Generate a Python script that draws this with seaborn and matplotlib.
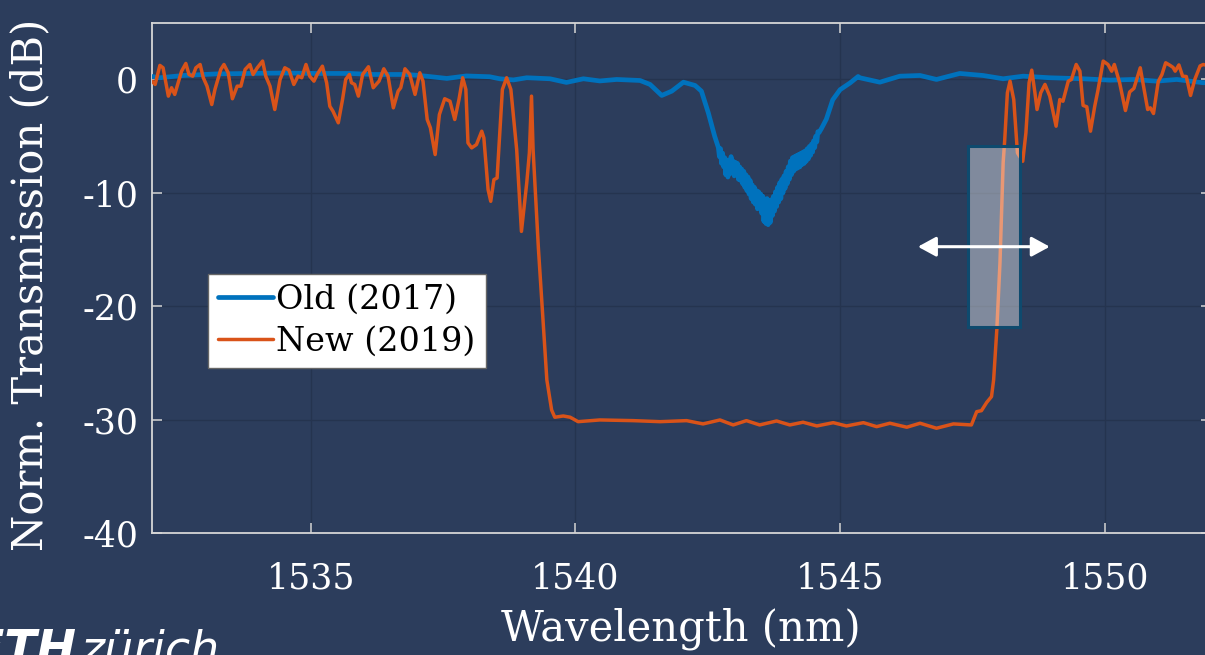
import numpy as np
import pandas as pd
import matplotlib
matplotlib.use("Agg")
import matplotlib.pyplot as plt
from matplotlib.patches import Rectangle
import seaborn as sns

# ---- measured transmission spectra (wavelength in nm, transmission in dB) ----
old_wavelength = [
    1532.00, 1532.15, 1532.59, 1533.22, 1533.85, 1534.48, 1535.11, 1535.74, 1536.18,
    1536.81, 1537.06, 1537.57, 1537.94, 1538.38, 1538.57, 1538.83, 1539.08, 1539.52,
    1539.83, 1540.15, 1540.46, 1540.78, 1541.22, 1541.41, 1541.63, 1541.82, 1542.04,
    1542.26, 1542.38, 1542.51, 1542.63,
    1542.70, 1542.72, 1542.74, 1542.76, 1542.78, 1542.80, 1542.82, 1542.84, 1542.86,
    1542.88, 1542.90, 1542.92, 1542.94, 1542.96, 1542.98, 1543.00, 1543.02, 1543.04,
    1543.06, 1543.08, 1543.10, 1543.12, 1543.14, 1543.16, 1543.18, 1543.20, 1543.22,
    1543.24, 1543.26, 1543.28, 1543.30, 1543.32, 1543.34, 1543.36, 1543.38, 1543.40,
    1543.42, 1543.44, 1543.46, 1543.48, 1543.50, 1543.52, 1543.54, 1543.56, 1543.58,
    1543.60, 1543.62, 1543.64, 1543.66, 1543.68, 1543.70, 1543.72, 1543.74, 1543.76,
    1543.78, 1543.80, 1543.82, 1543.84, 1543.86, 1543.88, 1543.90, 1543.92, 1543.94,
    1543.96, 1543.98, 1544.00, 1544.02, 1544.04, 1544.06, 1544.08, 1544.10, 1544.12,
    1544.14, 1544.16, 1544.18, 1544.20, 1544.22, 1544.24, 1544.26, 1544.28, 1544.30,
    1544.32, 1544.34, 1544.36, 1544.38, 1544.40, 1544.42, 1544.44, 1544.46, 1544.48,
    1544.50, 1544.52, 1544.54, 1544.56, 1544.58, 1544.60,
    1544.65, 1544.74, 1544.86, 1545.00, 1545.19, 1545.34, 1545.37, 1545.75, 1546.13,
    1546.51, 1546.82, 1547.26, 1547.70, 1548.08, 1548.46, 1548.96, 1549.59, 1550.10,
    1550.54, 1550.98, 1551.36, 1551.86, 1552.00,
]
old_db = [
    0.26, 0.15, 0.35, 0.49, 0.53, 0.57, 0.53, 0.53, 0.44,
    0.44, 0.35, 0.09, 0.31, 0.24, 0.06, -0.04, 0.15, 0.06,
    -0.26, 0.06, -0.13, 0.00, -0.09, -0.44, -1.41, -1.03, -0.24,
    -0.53, -1.03, -2.94, -5.00,
    -6.0, -6.8, -6.1, -7.4, -6.5, -7.7, -6.9, -8.4, -7.1,
    -8.6, -7.3, -8.3, -6.8, -8.2, -7.2, -8.5, -7.3, -8.2,
    -7.4, -8.8, -7.7, -8.9, -7.9, -9.2, -8.1, -9.5, -8.4,
    -9.8, -8.6, -10.1, -8.9, -10.5, -9.3, -10.8, -9.5, -11.0,
    -9.8, -11.4, -9.9, -11.2, -10.1, -11.8, -10.3, -12.5, -10.8,
    -12.7, -10.5, -12.8, -10.9, -12.6, -10.6, -12.0, -10.3, -11.6,
    -9.9, -11.2, -9.5, -10.8, -9.1, -10.5, -8.8, -10.0, -8.5,
    -9.6, -8.1, -9.2, -7.7, -8.8, -7.2, -8.4, -6.9, -8.1,
    -6.8, -7.9, -6.7, -7.8, -6.6, -7.7, -6.5, -7.5, -6.4,
    -7.4, -6.3, -7.2, -6.1, -7.0, -5.9, -6.7, -5.7, -6.4,
    -5.4, -6.0, -5.0, -5.5, -4.6, -4.7,
    -4.3, -3.5, -1.8, -0.9, -0.3, 0.26, 0.15, -0.24, 0.29,
    0.35, 0.00, 0.53, 0.35, 0.06, 0.29, 0.15, 0.06, -0.06,
    0.00, -0.15, 0.00, -0.29, -0.26,
]

new_wavelength = [
    1532.00, 1532.06, 1532.15, 1532.21, 1532.31, 1532.37, 1532.43, 1532.56, 1532.64,
    1532.70, 1532.77, 1532.83, 1532.91, 1532.97, 1533.04, 1533.13, 1533.19, 1533.30,
    1533.36, 1533.44, 1533.52, 1533.61, 1533.68, 1533.76, 1533.85, 1533.91, 1533.99,
    1534.09, 1534.15, 1534.23, 1534.32, 1534.42, 1534.51, 1534.59, 1534.68, 1534.76,
    1534.83, 1534.91, 1534.98, 1535.06, 1535.12, 1535.22, 1535.30, 1535.36, 1535.42,
    1535.52, 1535.60, 1535.66, 1535.73, 1535.77, 1535.83, 1535.90, 1535.98, 1536.09,
    1536.18, 1536.29, 1536.38, 1536.46, 1536.56, 1536.65, 1536.70, 1536.78, 1536.87,
    1536.97, 1537.06, 1537.12, 1537.20, 1537.26, 1537.35, 1537.43, 1537.53, 1537.63,
    1537.72, 1537.80, 1537.87, 1537.93, 1537.97, 1538.04, 1538.13, 1538.23, 1538.27,
    1538.35, 1538.40, 1538.46, 1538.52, 1538.62, 1538.70, 1538.78, 1538.89, 1538.98,
    1539.08, 1539.13, 1539.17, 1539.20, 1539.30, 1539.46, 1539.55, 1539.61, 1539.77,
    1539.90, 1540.05, 1540.46, 1541.09, 1541.60, 1542.10, 1542.41, 1542.73, 1542.98,
    1543.23, 1543.48, 1543.80, 1544.05, 1544.30, 1544.56, 1544.87, 1545.12, 1545.44,
    1545.69, 1545.94, 1546.26, 1546.51, 1546.82, 1547.14, 1547.48, 1547.58, 1547.67,
    1547.77, 1547.86, 1547.90, 1547.96, 1548.02, 1548.08, 1548.11, 1548.16, 1548.21,
    1548.28, 1548.35, 1548.45, 1548.51, 1548.57, 1548.62, 1548.68, 1548.72, 1548.79,
    1548.87, 1548.96, 1549.08, 1549.15, 1549.21, 1549.31, 1549.37, 1549.46, 1549.53,
    1549.59, 1549.66, 1549.73, 1549.81, 1549.87, 1549.97, 1550.06, 1550.13, 1550.18,
    1550.28, 1550.39, 1550.47, 1550.55, 1550.67, 1550.75, 1550.81, 1550.86, 1550.92,
    1551.01, 1551.08, 1551.15, 1551.23, 1551.29, 1551.33, 1551.40, 1551.47, 1551.54,
    1551.62, 1551.70, 1551.80, 1551.86, 1552.00,
]
new_db = [
    -0.15, -0.44, 1.24, 1.03, -1.47, -0.73, -1.32, 0.73, 1.41,
    0.44, 0.29, 1.03, 1.32, 0.15, -0.59, -2.21, -0.88, 0.88,
    1.32, 0.59, -1.70, -0.59, -0.59, 0.88, 1.32, 0.44, 1.03,
    1.62, 0.29, -0.59, -2.65, 0.00, 1.03, 0.82, -0.44, 0.29,
    0.15, 1.32, 0.29, -0.15, 0.44, 1.17, -0.29, -2.36, -2.80,
    -3.82, -1.77, 0.00, 0.44, -0.29, -0.44, -1.47, 0.44, 1.12,
    -0.73, -0.15, 0.94, 0.29, -2.50, -1.03, -0.73, 0.94, 0.44,
    -1.32, 0.59, -0.15, -3.53, -4.26, -6.62, -3.09, -1.70, -1.92,
    -3.53, -1.77, 0.15, -0.88, -5.59, -6.03, -5.74, -4.56, -5.15,
    -9.71, -10.74, -8.83, -8.68, -0.88, 0.15, -0.88, -6.18, -13.39,
    -9.12, -6.47, -1.47, -6.18, -14.85, -26.48, -29.13, -29.77, -29.66,
    -29.77, -30.16, -30.01, -30.07, -30.16, -30.07, -30.36, -30.01, -30.45,
    -30.07, -30.45, -30.10, -30.45, -30.21, -30.54, -30.25, -30.54, -30.25,
    -30.60, -30.30, -30.65, -30.30, -30.74, -30.36, -30.45, -29.28, -29.19,
    -28.46, -27.95, -26.48, -22.07, -16.15, -7.33, -5.30, -1.17, -0.15,
    -1.77, -6.47, -7.21, -4.70, -0.29, 0.82, -1.17, -2.65, -1.17,
    -0.44, -1.47, -4.12, -1.77, -1.92, -0.15, 0.00, 1.32, 0.73,
    -2.29, -2.41, -4.56, -2.36, -0.97, 1.62, 1.32, 0.73, 1.32,
    -0.29, -2.74, -1.10, -0.79, 1.03, -1.06, -2.65, -2.50, -3.00,
    -0.18, 0.44, 1.47, 1.25, 1.06, 0.73, 1.28, 0.29, 0.26,
    -1.41, 0.00, 1.19, 1.32, 1.15,
]

series_labels = ["Old (2017)", "New (2019)"]
x_ticks = [1535, 1540, 1545, 1550]
y_ticks = [0, -10, -20, -30, -40]

# highlighted tuning window and tuning arrow (nm, dB)
window_wavelength = [1547.41, 1548.40]
window_db = [-21.8, -5.9]
arrow_wavelength = [1546.47, 1548.96]
arrow_db = -14.74

BG = "#2c3d5c"
BLUE = "#0072BD"
ORANGE = "#D95319"

sns.set_theme(style="white")
plt.rcParams["font.family"] = ["DejaVu Serif"]

fig = plt.figure(figsize=(12.05, 6.55), dpi=100, facecolor=BG)
ax = fig.add_axes([0.1261, 0.1858, 0.8786, 0.7795], facecolor=BG)

old_df = pd.DataFrame({"wavelength": old_wavelength, "db": old_db})
new_df = pd.DataFrame({"wavelength": new_wavelength, "db": new_db})

sns.lineplot(data=old_df, x="wavelength", y="db", ax=ax, color=BLUE, lw=3.4,
             sort=False, estimator=None, label=series_labels[0], zorder=3)
sns.lineplot(data=new_df, x="wavelength", y="db", ax=ax, color=ORANGE, lw=2.5,
             sort=False, estimator=None, label=series_labels[1], zorder=4)

ax.set_xlim(1532, 1552)
ax.set_ylim(-40, 5)
ax.set_xticks(x_ticks)
ax.set_yticks(y_ticks)
ax.set_xticklabels([str(t) for t in x_ticks])
ax.set_yticklabels([str(t) for t in y_ticks])

ax.grid(True, color="#25344f", lw=1.0)
ax.set_axisbelow(True)
for side in ["left", "right", "top", "bottom"]:
    ax.spines[side].set_visible(True)
    ax.spines[side].set_color("#d6d6d6")
    ax.spines[side].set_linewidth(1.3)

ax.tick_params(axis="both", which="major", direction="in", length=7.5, width=1.1,
               color="#d6d6d6", labelcolor="white", labelsize=25,
               top=True, right=True, bottom=True, left=True)
ax.tick_params(axis="x", pad=20)
ax.tick_params(axis="y", pad=10)

ax.set_xlabel("Wavelength (nm)", color="white", fontsize=30)
ax.set_ylabel("Norm. Transmission (dB)", color="white", fontsize=30)
ax.xaxis.set_label_coords(0.5, -0.145)
ax.yaxis.set_label_coords(-0.095, 0.486)

# tuning window and arrow
rect = Rectangle((window_wavelength[0], window_db[0]),
                 window_wavelength[1] - window_wavelength[0],
                 window_db[1] - window_db[0],
                 facecolor=(1, 1, 1, 0.4), edgecolor="#0e4a6e", lw=2.2, zorder=5)
ax.add_patch(rect)
ax.annotate("", xy=(arrow_wavelength[0], arrow_db), xytext=(arrow_wavelength[1], arrow_db),
            arrowprops=dict(arrowstyle="<|-|>,head_length=0.55,head_width=0.3",
                            color="white", lw=2.2, mutation_scale=20,
                            shrinkA=0, shrinkB=0), zorder=6)

leg = ax.legend(loc="upper left", bbox_to_anchor=(0.053, 0.508), fontsize=24,
                frameon=True, fancybox=False, framealpha=1.0, facecolor="white",
                edgecolor="#666666", borderpad=0.3, borderaxespad=0,
                handlelength=1.65, handletextpad=0.1, labelspacing=0.3)
leg.get_frame().set_linewidth(1.0)
for t in leg.get_texts():
    t.set_color("black")

# institution mark in the lower-left corner
fig.text(76 / 1205, -8 / 655, "ETH", color="white", fontsize=34, fontweight="bold",
         fontstyle="italic", family=["DejaVu Sans"], ha="right", va="baseline")
fig.text(80 / 1205, -8 / 655, "zürich", color="white", fontsize=33,
         fontstyle="italic", family=["DejaVu Sans"], ha="left", va="baseline")

fig.savefig("out.png", dpi=100, facecolor=BG)
